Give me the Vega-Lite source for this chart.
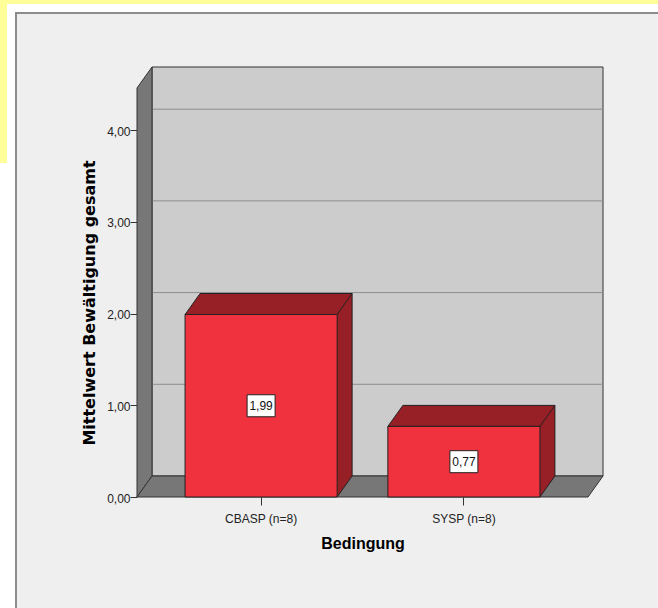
{
  "$schema": "https://vega.github.io/schema/vega-lite/v6.json",
  "width": 451,
  "height": 409,
  "autosize": {"type": "none"},
  "padding": {"left": 137, "top": 88, "right": 70, "bottom": 111},
  "background": "#efefef",
  "config": {
    "view": {"stroke": null},
    "locale": {"number": {"decimal": ",", "thousands": ".", "grouping": [3], "currency": ["", " €"]}}
  },
  "data": {"values": [
    {"Bedingung": "CBASP (n=8)", "Mittelwert": 1.99},
    {"Bedingung": "SYSP (n=8)", "Mittelwert": 0.77}
  ]},
  "resolve": {"scale": {"y": "independent"}},
  "layer": [
    {
      "data": {"values": [{}]},
      "mark": {"type": "point", "shape": "M-362.5,-493H-347.5V111H-362.5Z M-362.5,-493H295.5V-485H-362.5Z", "size": 4, "filled": true, "fill": "#ffffff", "stroke": null, "opacity": 1},
      "encoding": {"y": {"datum": 0, "type": "quantitative", "scale": {"domain": [0, 4.46], "nice": false}, "axis": null}}
    },
    {
      "data": {"values": [{}]},
      "mark": {"type": "point", "shape": "M-362.5,-497H295.5V-493H-362.5Z M-362.5,-497H-355.5V-334H-362.5Z", "size": 4, "filled": true, "fill": "#ffff99", "stroke": null, "opacity": 1},
      "encoding": {"y": {"datum": 0, "type": "quantitative", "scale": {"domain": [0, 4.46], "nice": false}, "axis": null}}
    },
    {
      "data": {"values": [{}]},
      "mark": {"type": "point", "shape": "M-346.5,111V-484H295.5", "size": 4, "filled": false, "fill": null, "stroke": "#8c8c8c", "strokeWidth": 2, "opacity": 1},
      "encoding": {"y": {"datum": 0, "type": "quantitative", "scale": {"domain": [0, 4.46], "nice": false}, "axis": null}}
    },
    {
      "data": {"values": [{}]},
      "mark": {"type": "point", "shape": "M-210.5,-21V-430H240.5V-21Z", "size": 4, "filled": true, "fill": "#cccccc", "stroke": "#333333", "strokeWidth": 1, "opacity": 1},
      "encoding": {"y": {"datum": 0, "type": "quantitative", "scale": {"domain": [0, 4.46], "nice": false}, "axis": null}}
    },
    {
      "data": {"values": [{"Gitter": 1}, {"Gitter": 2}, {"Gitter": 3}, {"Gitter": 4}]},
      "mark": {"type": "rule", "stroke": "#8e8e8e", "strokeWidth": 1, "xOffset": 15, "x2Offset": 15, "yOffset": -21},
      "encoding": {"y": {"field": "Gitter", "type": "quantitative", "scale": {"domain": [0, 4.46], "nice": false}, "axis": null}}
    },
    {
      "data": {"values": [{}]},
      "mark": {"type": "point", "shape": "M-225.5,0V-409L-210.5,-430V-21Z", "size": 4, "filled": true, "fill": "#777777", "stroke": "#333333", "strokeWidth": 1, "opacity": 1},
      "encoding": {"y": {"datum": 0, "type": "quantitative", "scale": {"domain": [0, 4.46], "nice": false}, "axis": null}}
    },
    {
      "data": {"values": [{}]},
      "mark": {"type": "point", "shape": "M-225.5,0L-210.5,-21H240.5L225.5,0Z", "size": 4, "filled": true, "fill": "#777777", "stroke": "#333333", "strokeWidth": 1, "opacity": 1},
      "encoding": {"y": {"datum": 0, "type": "quantitative", "scale": {"domain": [0, 4.46], "nice": false}, "axis": null}}
    },
    {
      "mark": {"type": "bar", "fill": "#962026", "stroke": null, "opacity": 1, "xOffset": 15, "yOffset": -21, "y2Offset": -21},
      "encoding": {
        "x": {
          "field": "Bedingung", "type": "nominal", "sort": null,
          "scale": {"paddingInner": 0.25, "paddingOuter": 0.237},
          "axis": {
            "title": "Bedingung", "titleFont": "Liberation Sans", "titleFontSize": 16, "titleFontWeight": "bold", "titleColor": "#000000",
            "titleX": 225.5, "titleY": 51.5, "titleAlign": "center", "titleBaseline": "alphabetic",
            "labelFont": "Liberation Sans", "labelFontSize": 12, "labelColor": "#222222", "labelAngle": 0,
            "labelBaseline": "alphabetic", "labelPadding": 17,
            "tickSize": 8, "tickColor": "#333333", "domain": false, "grid": false
          }
        },
        "y": {"field": "Mittelwert", "type": "quantitative", "scale": {"domain": [0, 4.46], "nice": false}, "axis": null}
      }
    },
    {
      "mark": {"type": "point", "shape": "M76,0L91,-21H76Z", "size": 4, "filled": true, "fill": "#962026", "stroke": null, "opacity": 1},
      "encoding": {
        "x": {"field": "Bedingung", "type": "nominal", "sort": null, "scale": {"paddingInner": 0.25, "paddingOuter": 0.237}},
        "y": {"datum": 0, "type": "quantitative", "scale": {"domain": [0, 4.46], "nice": false}, "axis": null}
      }
    },
    {
      "mark": {"type": "point", "shape": "M-76,0L-61,-21H91L76,0Z", "size": 4, "filled": true, "fill": "#962026", "stroke": "#222222", "strokeWidth": 1, "opacity": 1},
      "encoding": {
        "x": {"field": "Bedingung", "type": "nominal", "sort": null, "scale": {"paddingInner": 0.25, "paddingOuter": 0.237}},
        "y": {"field": "Mittelwert", "type": "quantitative", "scale": {"domain": [0, 4.46], "nice": false}, "axis": null}
      }
    },
    {
      "mark": {"type": "rule", "stroke": "#222222", "strokeWidth": 1, "xOffset": 91, "yOffset": -21, "y2Offset": -21},
      "encoding": {
        "x": {"field": "Bedingung", "type": "nominal", "sort": null, "scale": {"paddingInner": 0.25, "paddingOuter": 0.237}},
        "y": {"field": "Mittelwert", "type": "quantitative", "scale": {"domain": [0, 4.46], "nice": false}, "axis": null},
        "y2": {"datum": 0}
      }
    },
    {
      "mark": {"type": "point", "shape": "M76,0L91,-21", "size": 4, "filled": false, "fill": null, "stroke": "#222222", "strokeWidth": 1, "opacity": 1},
      "encoding": {
        "x": {"field": "Bedingung", "type": "nominal", "sort": null, "scale": {"paddingInner": 0.25, "paddingOuter": 0.237}},
        "y": {"datum": 0, "type": "quantitative", "scale": {"domain": [0, 4.46], "nice": false}, "axis": null}
      }
    },
    {
      "mark": {"type": "bar", "fill": "#ef323d", "stroke": "#222222", "strokeWidth": 1, "opacity": 1},
      "encoding": {
        "x": {"field": "Bedingung", "type": "nominal", "sort": null, "scale": {"paddingInner": 0.25, "paddingOuter": 0.237}},
        "y": {
          "field": "Mittelwert", "type": "quantitative",
          "scale": {"domain": [0, 4.46], "nice": false},
          "axis": {
            "title": "Mittelwert Bewältigung gesamt", "values": [0, 1, 2, 3, 4], "format": ".2f",
            "titleFont": "DejaVu Sans", "titleFontSize": 16, "titleFontWeight": "bold", "titleColor": "#000000",
            "titleAngle": 270, "titleX": -47.5, "titleY": 214.5, "titleAlign": "center", "titleBaseline": "middle",
            "labelFont": "Liberation Sans", "labelFontSize": 12, "labelColor": "#222222",
            "labelPadding": 0, "labelOffset": 1,
            "tickSize": 7, "tickColor": "#333333", "domain": false, "grid": false
          }
        }
      }
    },
    {
      "mark": {"type": "point", "shape": "M-14,-11H14V11H-14Z", "size": 4, "filled": true, "fill": "#ffffff", "stroke": "#222222", "strokeWidth": 1, "opacity": 1},
      "encoding": {
        "x": {"field": "Bedingung", "type": "nominal", "sort": null, "scale": {"paddingInner": 0.25, "paddingOuter": 0.237}},
        "y": {"field": "Mittelwert", "type": "quantitative", "scale": {"domain": [0, 8.92], "nice": false}, "axis": null}
      }
    },
    {
      "mark": {"type": "text", "font": "Liberation Sans", "fontSize": 12, "fill": "#111111", "align": "center", "baseline": "middle"},
      "encoding": {
        "x": {"field": "Bedingung", "type": "nominal", "sort": null, "scale": {"paddingInner": 0.25, "paddingOuter": 0.237}},
        "y": {"field": "Mittelwert", "type": "quantitative", "scale": {"domain": [0, 8.92], "nice": false}, "axis": null},
        "text": {"field": "Mittelwert", "type": "quantitative", "format": ".2f"}
      }
    }
  ]
}
